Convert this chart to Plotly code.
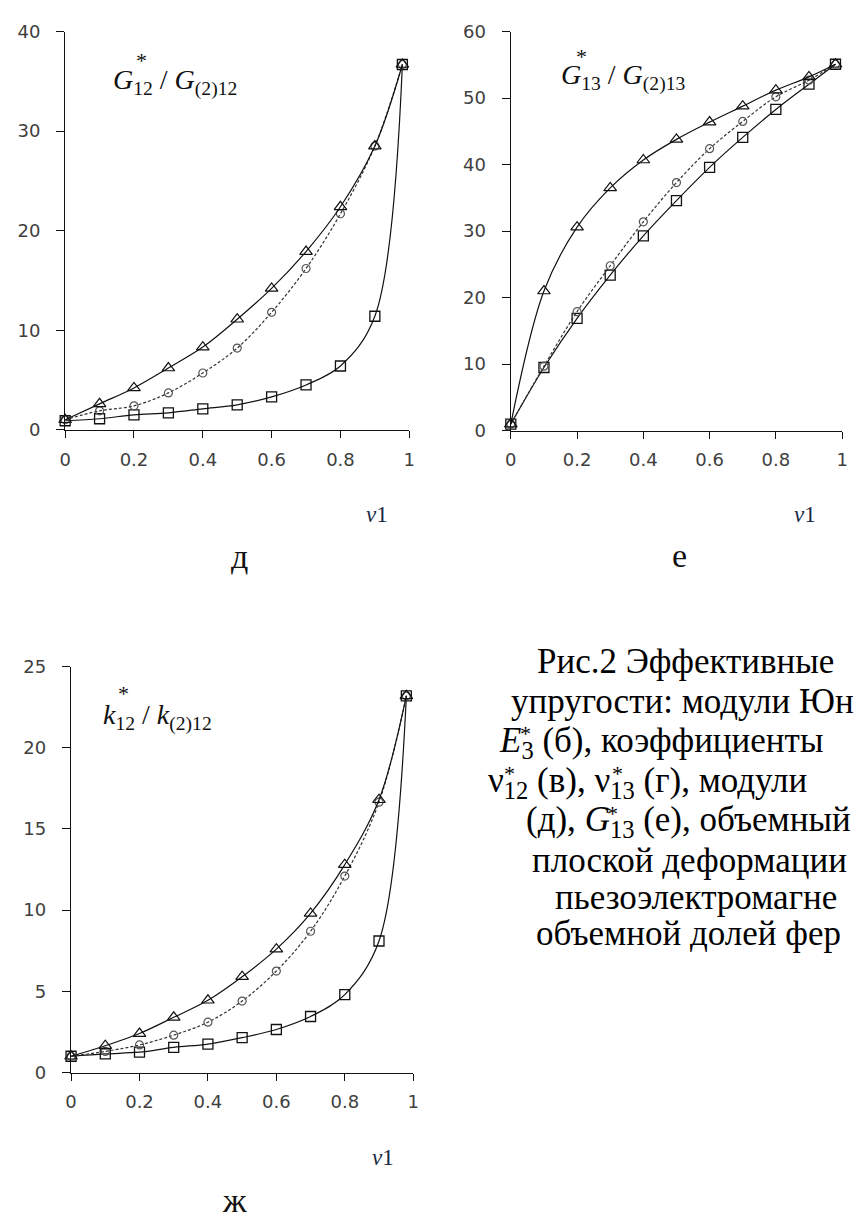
import plotly.graph_objects as go

W, H = 856, 1227

# volume fraction of the first phase
nu = [0, 0.1, 0.2, 0.3, 0.4, 0.5, 0.6, 0.7, 0.8, 0.9, 0.98]
x_tickvals = [0, 0.2, 0.4, 0.6, 0.8, 1]
x_ticktext = ["0", "0.2", "0.4", "0.6", "0.8", "1"]

# G*12 / G(2)12
g12_tri = [1.0, 2.6, 4.2, 6.2, 8.3, 11.1, 14.2, 17.9, 22.4, 28.5, 36.7]
g12_circ = [1.0, 1.9, 2.4, 3.7, 5.7, 8.2, 11.8, 16.2, 21.7, 28.5, 36.7]
g12_sq = [0.9, 1.1, 1.5, 1.7, 2.1, 2.5, 3.3, 4.5, 6.4, 11.4, 36.7]
g12_yticks = [0, 10, 20, 30, 40]

# G*13 / G(2)13
g13_tri = [1.0, 21.0, 30.6, 36.5, 40.7, 43.8, 46.4, 48.8, 51.2, 53.2, 55.1]
g13_circ = [1.0, 9.7, 17.9, 24.8, 31.4, 37.3, 42.4, 46.5, 50.2, 52.7, 55.1]
g13_sq = [1.0, 9.5, 16.9, 23.4, 29.3, 34.6, 39.6, 44.1, 48.3, 52.1, 55.1]
g13_yticks = [0, 10, 20, 30, 40, 50, 60]

# k*12 / k(2)12
k12_tri = [1.0, 1.65, 2.4, 3.4, 4.45, 5.9, 7.6, 9.8, 12.8, 16.8, 23.2]
k12_circ = [1.0, 1.3, 1.7, 2.3, 3.1, 4.4, 6.25, 8.7, 12.1, 16.65, 23.2]
k12_sq = [1.0, 1.15, 1.25, 1.55, 1.75, 2.15, 2.65, 3.45, 4.8, 8.1, 23.2]
k12_yticks = [0, 5, 10, 15, 20, 25]

INK = "#111111"
TICK_FONT = dict(family="DejaVu Sans", size=18, color="#404040")
SERIF = "Liberation Serif"


def px_x(p):
    return p / W


def px_y(p):
    return 1 - p / H


panels = [
    # (xaxis id, yaxis id, x-domain px, y-domain px, y-range, y ticks, series)
    ("x", "y", (60, 409), (426, 21), [0, 40], g12_yticks, (g12_sq, g12_circ, g12_tri)),
    ("x2", "y2", (512, 848), (427, 21), [0, 60], g13_yticks, (g13_sq, g13_circ, g13_tri)),
    ("x3", "y3", (66, 413), (1080, 667), [0, 25], k12_yticks, (k12_sq, k12_circ, k12_tri)),
]

fig = go.Figure()
layout = dict(
    width=W,
    height=H,
    margin=dict(l=0, r=0, t=0, b=0),
    paper_bgcolor="white",
    plot_bgcolor="white",
    showlegend=False,
)

for xa, ya, (x0, x1), (y0, y1), yr, yt, (sq, circ, tri) in panels:
    common = dict(xaxis=xa, yaxis=ya, x=nu, mode="lines+markers", cliponaxis=False)
    fig.add_trace(go.Scatter(
        y=sq, line=dict(color=INK, width=1.2, shape="spline", smoothing=1.0),
        marker=dict(symbol="square-open", size=10, color=INK, line=dict(width=1.3, color=INK)),
        **common))
    fig.add_trace(go.Scatter(
        y=circ, line=dict(color="#333333", width=1.2, dash="3px,2px", shape="spline", smoothing=1.0),
        marker=dict(symbol="circle-open", size=8, color="#555555", line=dict(width=1.2, color="#555555")),
        **common))
    fig.add_trace(go.Scatter(
        y=tri, line=dict(color=INK, width=1.2, shape="spline", smoothing=1.0),
        marker=dict(symbol="triangle-up-open", size=11, color=INK, line=dict(width=1.2, color=INK)),
        **common))

    xkey = "xaxis" + xa[1:]
    ykey = "yaxis" + ya[1:]
    layout[xkey] = dict(
        domain=[px_x(x0), px_x(x1)], anchor=ya, range=[0, 1],
        tickvals=x_tickvals, ticktext=x_ticktext,
        showline=True, linecolor=INK, linewidth=1.4, mirror=False,
        ticks="outside", ticklen=7, tickwidth=1.4, tickcolor=INK,
        showgrid=False, zeroline=False, tickfont=TICK_FONT, ticklabelstandoff=6,
    )
    layout[ykey] = dict(
        domain=[px_y(y0), px_y(y1)], anchor=xa, range=yr,
        tickvals=yt, showline=True, linecolor=INK, linewidth=1.4,
        ticks="outside", ticklen=8, tickwidth=1.4, tickcolor=INK,
        showgrid=False, zeroline=False, tickfont=TICK_FONT, ticklabelstandoff=12,
    )

annotations = []


def note(x, y, text, size, xanchor="center", family=SERIF, color="#111111"):
    annotations.append(dict(
        x=px_x(x), y=px_y(y), xref="paper", yref="paper", text=text,
        showarrow=False, xanchor=xanchor, yanchor="middle",
        font=dict(family=family, size=size, color=color),
    ))


# quantity labels inside each panel (asterisk set above the subscript)
note(106, 72, "<i>G</i><sub>12</sub> / <i>G</i><sub>(2)12</sub>", 28, xanchor="left")
note(137, 50, "*", 22)
note(561, 67, "<i>G</i><sub>13</sub> / <i>G</i><sub>(2)13</sub>", 28, xanchor="left")
note(584, 46, "*", 22)
note(96, 718, "<i>k</i><sub>12</sub> / <i>k</i><sub>(2)12</sub>", 28, xanchor="left")
note(119, 694, "*", 22)

# axis titles and panel letters
for cx, cy in [(376, 512), (810, 512), (382, 1166)]:
    note(cx, cy, "<i>ν</i>1", 23, color="#1a2a44")
note(237, 555, "д", 34)
note(683, 554, "е", 34)
note(232, 1210, "ж", 34)

# figure caption; the asterisks sit above the subscripts as separate marks
caption = [
    (537, 662, "Рис.2 Эффективные"),
    (510, 703, "упругости: модули Юн"),
    (498, 744, "<i>E</i><sub>3</sub> (б), коэффициенты"),
    (487, 785, "ν<sub>12</sub> (в), ν<sub>13</sub> (г), модули"),
    (525, 825, "(д), <i>G</i><sub>13</sub> (е), объемный"),
    (531, 864, "плоской деформации"),
    (555, 902, "пьезоэлектромагне"),
    (536, 939, "объемной долей фер"),
]
for cx, cy, txt in caption:
    note(cx, cy, txt, 35, xanchor="left", color="#000000")

# asterisks over the subscripts in the caption
for sx, sy in [(527, 735), (511, 776), (620, 776), (615, 816)]:
    note(sx, sy, "*", 22, color="#000000")

layout["annotations"] = annotations
fig.update_layout(**layout)
fig.write_html("out.html")
